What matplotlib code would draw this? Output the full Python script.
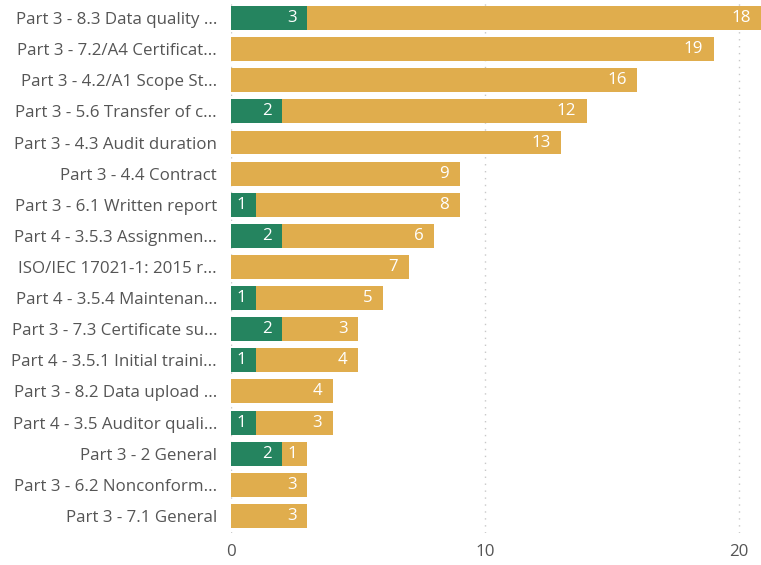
import matplotlib.pyplot as plt
import numpy as np

plt.rcParams["font.family"] = ["Open Sans", "DejaVu Sans"]

# ── Data ────────────────────────────────────────────────────────────────────
categories = [
    "Part 3 - 8.3 Data quality ...",
    "Part 3 - 7.2/A4 Certificat...",
    "Part 3 - 4.2/A1 Scope St...",
    "Part 3 - 5.6 Transfer of c...",
    "Part 3 - 4.3 Audit duration",
    "Part 3 - 4.4 Contract",
    "Part 3 - 6.1 Written report",
    "Part 4 - 3.5.3 Assignmen...",
    "ISO/IEC 17021-1: 2015 r...",
    "Part 4 - 3.5.4 Maintenan...",
    "Part 3 - 7.3 Certificate su...",
    "Part 4 - 3.5.1 Initial traini...",
    "Part 3 - 8.2 Data upload ...",
    "Part 4 - 3.5 Auditor quali...",
    "Part 3 - 2 General",
    "Part 3 - 6.2 Nonconform...",
    "Part 3 - 7.1 General",
]
green_vals = [3, 0, 0, 2, 0, 0, 1, 2, 0, 1, 2, 1, 0, 1, 2, 0, 0]
gold_vals  = [18, 19, 16, 12, 13, 9, 8, 6, 7, 5, 3, 4, 4, 3, 1, 3, 3]
x_ticks    = [0, 10, 20]

GREEN = "#25845F"
GOLD  = "#E0AD4D"
XMAX  = 20.87
FS    = 12.2

# ── Figure ──────────────────────────────────────────────────────────────────
fig = plt.figure(figsize=(7.61, 5.65), dpi=100)
ax = fig.add_axes([231 / 761, 32 / 565, 1 - 231 / 761, 533 / 565])

y = np.arange(len(categories))
green = np.array(green_vals)
gold  = np.array(gold_vals)

ax.barh(y, green, height=0.77, color=GREEN, zorder=3)
ax.barh(y, gold, left=green, height=0.77, color=GOLD, zorder=3)

ax.set_xlim(0, XMAX)
ax.set_ylim(16.55, -0.58)

# value labels, inside end
for i in range(len(categories)):
    for start, val in ((0, green[i]), (green[i], gold[i])):
        if val == 0:
            continue
        end = min(start + val, XMAX)
        ax.annotate(str(val), xy=(end, i), xytext=(-7.5, 0),
                    textcoords="offset points", ha="right", va="center",
                    color="white", fontsize=FS, zorder=4)

ax.set_yticks(y)
ax.set_yticklabels(categories, fontsize=FS, color="#555555")
ax.set_xticks(x_ticks)
ax.set_xticklabels([str(t) for t in x_ticks], fontsize=FS, color="#555555")
ax.tick_params(axis="both", length=0)
ax.tick_params(axis="y", pad=10)
ax.tick_params(axis="x", pad=8)

ax.grid(axis="x", linestyle=(0, (1, 4)), color="#C8C8C8", linewidth=1, zorder=0)
for s in ax.spines.values():
    s.set_visible(False)

fig.savefig("out.png", dpi=100)
